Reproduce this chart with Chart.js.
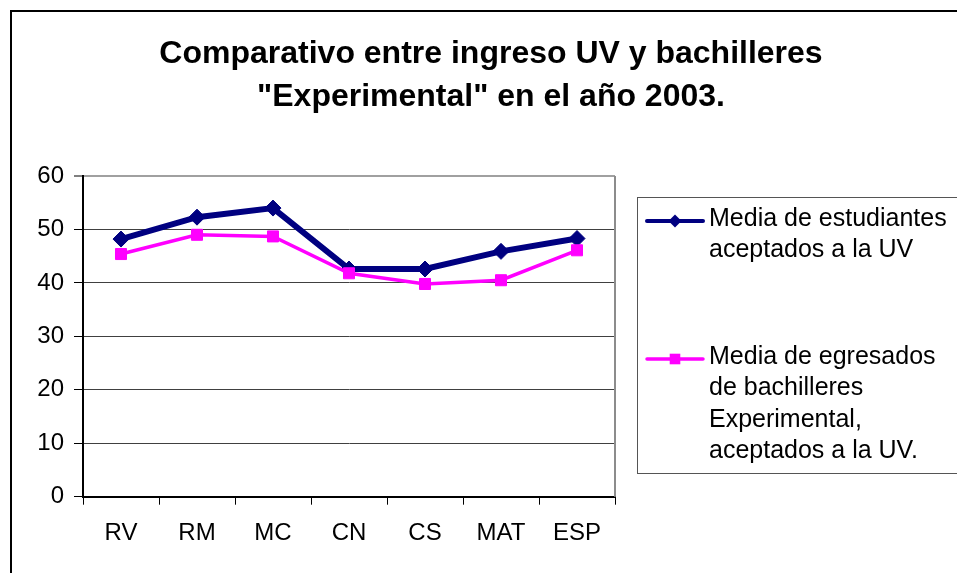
<!DOCTYPE html>
<html>
<head>
<meta charset="utf-8">
<title>Comparativo entre ingreso UV y bachilleres Experimental</title>
<script src="https://cdn.jsdelivr.net/npm/chart.js@4.4.1/dist/chart.umd.min.js"></script>
<style>
  html, body { margin: 0; padding: 0; background: #fff; overflow: hidden; }
  canvas { display: block; }
</style>
</head>
<body>
<canvas id="chart" width="957" height="573"></canvas>
<script>
const titleLines = ["Comparativo entre ingreso UV y bachilleres", "\"Experimental\" en el año 2003."];
const subjects = ["RV", "RM", "MC", "CN", "CS", "MAT", "ESP"];
const uvValues = [48.2, 52.3, 54.0, 42.6, 42.6, 45.9, 48.3];
const experimentalValues = [45.4, 49.0, 48.7, 41.8, 39.8, 40.5, 46.1];
const uvLabel = ["Media de estudiantes", "aceptados a la UV"];
const experimentalLabel = ["Media de egresados", "de bachilleres", "Experimental,", "aceptados a la UV."];

const fontFamily = "'Liberation Sans', Arial, sans-serif";
Chart.defaults.font.family = fontFamily;
Chart.defaults.color = "#000";

// white page + outer frame of the chart object
const framePlugin = {
  id: "frame",
  beforeDraw(chart) {
    const ctx = chart.ctx;
    ctx.save();
    ctx.fillStyle = "#fff";
    ctx.fillRect(0, 0, chart.width, chart.height);
    ctx.strokeStyle = "#000";
    ctx.lineWidth = 2;
    ctx.strokeRect(11, 11, 1000, 1000);
    ctx.restore();
  }
};

// right edge of the plot area, drawn after the grid
const plotBorderPlugin = {
  id: "plotBorder",
  beforeDatasetsDraw(chart) {
    const { ctx, chartArea } = chart;
    ctx.save();
    ctx.strokeStyle = "#8c8c8c";
    ctx.lineWidth = 2;
    ctx.beginPath();
    ctx.moveTo(chartArea.right, chartArea.top);
    ctx.lineTo(chartArea.right, chartArea.bottom);
    ctx.stroke();
    ctx.restore();
  }
};

const titlePlugin = {
  id: "twoLineTitle",
  afterDraw(chart) {
    const ctx = chart.ctx;
    ctx.save();
    ctx.font = "bold 32px " + fontFamily;
    ctx.fillStyle = "#000";
    ctx.textAlign = "center";
    ctx.textBaseline = "alphabetic";
    titleLines.forEach((line, i) => {
      ctx.fillText(line, 491, 63 + i * 43);
    });
    ctx.restore();
  }
};

function drawMarker(ctx, style, x, y, r, color) {
  ctx.fillStyle = color;
  ctx.beginPath();
  if (style === "rectRot") {
    ctx.moveTo(x, y - r);
    ctx.lineTo(x + r, y);
    ctx.lineTo(x, y + r);
    ctx.lineTo(x - r, y);
    ctx.closePath();
  } else {
    const s = r * Math.SQRT1_2;
    ctx.rect(x - s, y - s, 2 * s, 2 * s);
  }
  ctx.fill();
}

// legend with wrapped labels, like the original box on the right
const legendPlugin = {
  id: "boxLegend",
  afterDraw(chart) {
    const ctx = chart.ctx;
    const box = { x: 637, y: 197, w: 400, h: 276 };
    const firstBaselines = [226, 364];
    const lineGap = 31.3;
    ctx.save();
    ctx.fillStyle = "#fff";
    ctx.fillRect(box.x, box.y, box.w, box.h);
    ctx.strokeStyle = "#555";
    ctx.lineWidth = 1;
    ctx.strokeRect(box.x + 0.5, box.y + 0.5, box.w, box.h);

    chart.data.datasets.forEach((ds, i) => {
      const base = firstBaselines[i];
      const sy = base - 5;
      // legend sample is a bit thinner than the plotted line
      ctx.strokeStyle = ds.borderColor;
      ctx.lineWidth = Math.min(ds.borderWidth, 4);
      ctx.lineCap = "round";
      ctx.beginPath();
      ctx.moveTo(647, sy);
      ctx.lineTo(703, sy);
      ctx.stroke();
      drawMarker(ctx, ds.pointStyle, 675, sy, ds.pointStyle === "rectRot" ? 6.5 : 7.5, ds.pointBackgroundColor);

      ctx.fillStyle = "#000";
      ctx.font = "25px " + fontFamily;
      ctx.textAlign = "left";
      ctx.textBaseline = "alphabetic";
      ds.labelLines.forEach((line, j) => {
        ctx.fillText(line, 709, base + j * lineGap);
      });
    });
    ctx.restore();
  }
};

new Chart(document.getElementById("chart"), {
  type: "line",
  data: {
    labels: subjects,
    datasets: [
      {
        label: uvLabel.join(" "),
        labelLines: uvLabel,
        data: uvValues,
        borderColor: "#000080",
        backgroundColor: "#000080",
        borderWidth: 6,
        pointStyle: "rectRot",
        pointRadius: 8,
        pointBorderWidth: 1,
        pointBackgroundColor: "#000080",
        pointBorderColor: "#000080",
        tension: 0,
        order: 1
      },
      {
        label: experimentalLabel.join(" "),
        labelLines: experimentalLabel,
        data: experimentalValues,
        borderColor: "#ff00ff",
        backgroundColor: "#ff00ff",
        borderWidth: 3.5,
        pointStyle: "rect",
        pointRadius: 7.8,
        pointBorderWidth: 1,
        pointBackgroundColor: "#ff00ff",
        pointBorderColor: "#ff00ff",
        tension: 0,
        order: 0
      }
    ]
  },
  options: {
    responsive: false,
    animation: false,
    layout: {
      padding: { left: 0, top: 176, right: 342, bottom: 16.3 }
    },
    plugins: {
      legend: { display: false },
      title: { display: false },
      tooltip: { enabled: false }
    },
    scales: {
      x: {
        offset: true,
        afterFit: (scale) => { scale.height = 60; },
        grid: {
          offset: true,
          drawOnChartArea: false,
          drawTicks: true,
          tickLength: 8,
          tickColor: "#000",
          tickWidth: 1
        },
        border: { display: true, color: "#000", width: 2 },
        ticks: {
          color: "#000",
          padding: 14,
          maxRotation: 0,
          font: { size: 24 }
        }
      },
      y: {
        min: 0,
        max: 60,
        afterFit: (scale) => { scale.width = 83; },
        grid: {
          color: (c) => (c.tick && c.tick.value === 60 ? "#a0a0a0" : "#404040"),
          lineWidth: (c) => (c.tick && c.tick.value === 60 ? 2 : 1),
          drawTicks: true,
          tickLength: 9,
          tickColor: "#000",
          tickWidth: 1
        },
        border: { display: true, color: "#000", width: 2 },
        ticks: {
          stepSize: 10,
          color: "#000",
          padding: 10,
          font: { size: 24 }
        }
      }
    }
  },
  plugins: [framePlugin, plotBorderPlugin, titlePlugin, legendPlugin]
});
</script>
</body>
</html>
